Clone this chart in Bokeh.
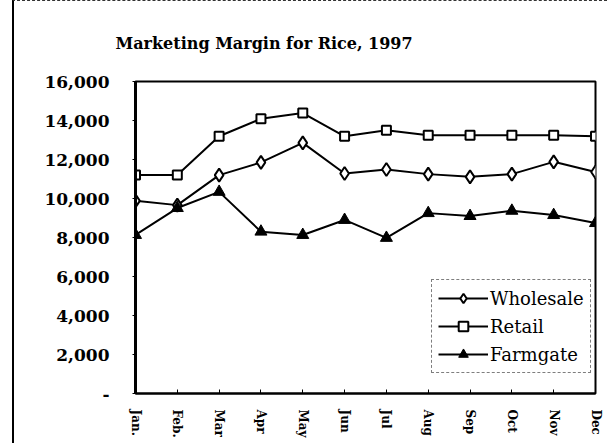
from bokeh.plotting import figure
from bokeh.models import Range1d, FixedTicker, NumeralTickFormatter, Legend, LegendItem
from bokeh.embed import file_html
from bokeh.resources import INLINE

months = ["Jan.", "Feb.", "Mar", "Apr", "May", "Jun", "Jul", "Aug", "Sep", "Oct", "Nov", "Dec"]
wholesale = [9880, 9660, 11200, 11850, 12850, 11280, 11490, 11250, 11110, 11250, 11880, 11360]
retail = [11200, 11200, 13190, 14090, 14380, 13190, 13500, 13240, 13240, 13240, 13240, 13190]
farmgate = [8130, 9510, 10340, 8300, 8130, 8900, 7980, 9250, 9100, 9370, 9150, 8740]
y_ticks = [0, 2000, 4000, 6000, 8000, 10000, 12000, 14000, 16000]
title_text = "Marketing Margin for Rice, 1997"

x = list(range(len(months)))
FONT = "DejaVu Serif"

p = figure(frame_width=460, frame_height=312, output_backend="svg", toolbar_location=None,
           x_range=Range1d(0, len(months) - 1), y_range=Range1d(0, 16000),
           min_border_left=121, min_border_right=12, min_border_top=80, min_border_bottom=50,
           title=title_text)
p.styles = {"margin-left": "12px",
            "border-left": "2px solid black", "border-top": "1px dashed #333"}

p.title.text_font = FONT
p.title.text_font_size = "16px"
p.title.text_font_style = "bold"
p.title.text_color = "black"
p.title.align = "left"
p.title.offset = -20
p.title.standoff = 58

p.grid.visible = False
p.outline_line_color = "black"
p.outline_line_width = 2
p.background_fill_color = "white"
p.border_fill_color = "white"

p.yaxis.ticker = FixedTicker(ticks=y_ticks)
p.yaxis.formatter = NumeralTickFormatter(format="0,0")
p.yaxis.major_label_overrides = {0: "-"}
p.yaxis.major_label_text_font = FONT
p.yaxis.major_label_text_font_size = "17px"
p.yaxis.major_label_text_font_style = "bold"
p.yaxis.major_label_text_color = "black"
p.yaxis.axis_line_width = 3
p.yaxis.axis_line_color = "black"
p.yaxis.major_tick_in = 0
p.yaxis.major_tick_out = 3
p.yaxis.major_tick_line_color = "black"
p.yaxis.minor_tick_line_color = None
p.yaxis.major_label_standoff = 23

p.xaxis.ticker = FixedTicker(ticks=x)
p.xaxis.major_label_overrides = {i: m for i, m in enumerate(months)}
p.xaxis.major_label_orientation = "vertical"
p.xaxis.major_label_text_font = FONT
p.xaxis.major_label_text_font_size = "12px"
p.xaxis.major_label_text_font_style = "bold"
p.xaxis.major_label_text_color = "black"
p.xaxis.axis_line_width = 2
p.xaxis.axis_line_color = "black"
p.xaxis.major_tick_in = 4
p.xaxis.major_tick_out = 0
p.xaxis.major_tick_line_color = "black"
p.xaxis.minor_tick_line_color = None
p.xaxis.major_label_standoff = 16

lw = p.line(x, wholesale, line_color="black", line_width=2)
mw = p.scatter(x, wholesale, marker="diamond", size=13, fill_color="white", line_color="black", line_width=2)
lr = p.line(x, retail, line_color="black", line_width=2)
mr = p.scatter(x, retail, marker="square", size=9, fill_color="white", line_color="black", line_width=2)
lf = p.line(x, farmgate, line_color="black", line_width=2)
mf = p.scatter(x, farmgate, marker="triangle", size=12, fill_color="black", line_color="black", line_width=1)

legend = Legend(items=[LegendItem(label="Wholesale", renderers=[lw, mw]),
                       LegendItem(label="Retail", renderers=[lr, mr]),
                       LegendItem(label="Farmgate", renderers=[lf, mf])],
                location=(296, 20))
legend.label_text_font = FONT
legend.label_text_font_size = "18px"
legend.label_text_color = "black"
legend.border_line_color = "black"
legend.border_line_width = 1
legend.border_line_dash = "4 2"
legend.background_fill_alpha = 1
legend.glyph_width = 50
legend.glyph_height = 24
legend.label_height = 24
legend.spacing = 4
legend.padding = 6
legend.label_standoff = 2
legend.margin = 0
p.add_layout(legend, "center")

open("out.html", "w").write(file_html(p, INLINE))
